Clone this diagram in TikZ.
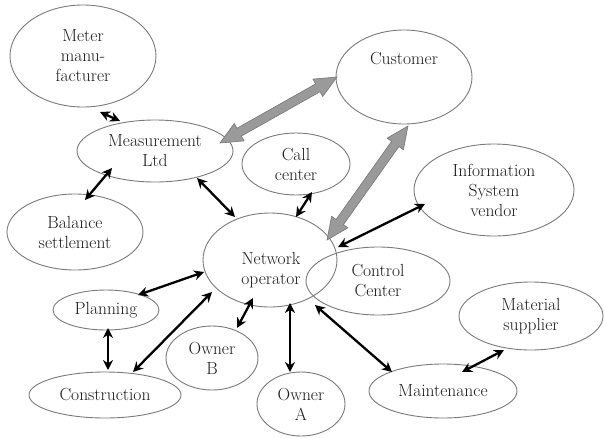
\documentclass[tikz,border=0pt]{standalone}
\usetikzlibrary{shapes.geometric,arrows.meta,calc}
\definecolor{linegray}{HTML}{7A7A7A}
\definecolor{txtgray}{HTML}{1A1A1A}
\definecolor{arrgray}{HTML}{9A9A9A}
\definecolor{arrline}{HTML}{777777}
\tikzset{
  ell/.style={ellipse, draw=linegray, line width=0.9pt, inner sep=0pt,
    text=txtgray, font=\rmfamily\fontsize{17.5}{20}\selectfont, align=center},
  txt/.style={inner sep=0pt, text=txtgray, font=\rmfamily\fontsize{17.5}{20}\selectfont, align=center},
  link/.style={line width=2.3pt, {Stealth[length=10pt,width=10pt]}-{Stealth[length=10pt,width=10pt]}},
  big/.style={fill=arrgray, draw=arrline, line width=0.6pt, line join=miter}
}
\newcommand{\dblarrow}[2]{%
  \filldraw[big] (#1)
    -- ($(#1)!22pt!(#2)!10pt!90:(#2)$)
    -- ($(#1)!22pt!(#2)!4.5pt!90:(#2)$)
    -- ($(#2)!22pt!(#1)!4.5pt!-90:(#1)$)
    -- ($(#2)!22pt!(#1)!10pt!-90:(#1)$)
    -- (#2)
    -- ($(#2)!22pt!(#1)!10pt!90:(#1)$)
    -- ($(#2)!22pt!(#1)!4.5pt!90:(#1)$)
    -- ($(#1)!22pt!(#2)!4.5pt!-90:(#2)$)
    -- ($(#1)!22pt!(#2)!10pt!-90:(#2)$)
    -- cycle;}
\begin{document}
\begin{tikzpicture}[x=1pt,y=-1pt]
\useasboundingbox[fill=white] (0,0) rectangle (605,437);

% ellipses
\node[ell, minimum width=146pt, minimum height=102pt] (meter) at (83,56) {Meter\\manu-\\facturer};
\node[ell, minimum width=156pt, minimum height=62pt] (meas) at (155,151) {Measurement\\Ltd};
\node[ell, minimum width=108pt, minimum height=62pt] (call) at (296,164) {Call\\center};
\node[ell, minimum width=136pt, minimum height=94pt] (cust) at (404,77) {};
\node[txt] (custlbl) at (404,59) {Customer};
\node[ell, minimum width=160pt, minimum height=92pt] (info) at (494,190) {Information\\System\\vendor};
\node[ell, minimum width=136pt, minimum height=76pt] (bal) at (75,232) {Balance\\settlement};
\node[ell, minimum width=134pt, minimum height=94pt] (net) at (270,260) {};
\node[txt] (netlbl) at (271,270) {Network\\operator};
\node[ell, minimum width=144pt, minimum height=68pt] (ctrl) at (378,281) {Control\\Center};
\node[ell, minimum width=144pt, minimum height=68pt] (mat) at (531,316) {Material\\supplier};
\node[ell, minimum width=148pt, minimum height=54pt] (maint) at (443,391) {Maintenance};
\node[ell, minimum width=88pt, minimum height=64pt] (ownA) at (301,404) {Owner\\A};
\node[ell, minimum width=92pt, minimum height=64pt] (ownB) at (212,358) {Owner\\B};
\node[ell, minimum width=106pt, minimum height=40pt] (plan) at (106,310) {Planning};
\node[ell, minimum width=152pt, minimum height=46pt] (cons) at (105,395) {Construction};

% big gray arrows
\coordinate (ga1) at ($(meas)+(65,-8)$);
\coordinate (ga2) at ($(cust)+(-67,0)$);
\dblarrow{ga1}{ga2}
\coordinate (gb1) at ($(net)+(57,-20)$);
\coordinate (gb2) at ($(cust)+(4,49)$);
\dblarrow{gb1}{gb2}

% black links
\draw[link] ($(meter)+(17,56)$) -- ($(meas)+(-35,-30)$);
\draw[link] ($(bal)+(10,-32)$) -- ($(meas)+(-43,17)$);
\draw[link] ($(meas)+(42,27)$) -- ($(net)+(-35,-43)$);
\draw[link] ($(call)+(16,28)$) -- ($(net)+(26,-43)$);
\draw[link] ($(info)+(-69,14)$) -- ($(net)+(68,-13)$);
\draw[link] ($(plan)+(32,-15)$) -- ($(net)+(-66,12)$);
\draw[link] ($(cons)+(28,-23)$) -- ($(net)+(-58,32)$);
\draw[link] ($(plan)+(2,18)$) -- ($(cons)+(3,-25)$);
\draw[link] ($(ownB)+(25,-30)$) -- ($(net)+(-17,38)$);
\draw[link] ($(net)+(20,43)$) -- ($(ownA)+(-11,-32)$);
\draw[link] ($(net)+(45,45)$) -- ($(maint)+(-51,-19)$);
\draw[link] ($(maint)+(19,-19)$) -- ($(mat)+(-27,34)$);
\end{tikzpicture}
\end{document}
